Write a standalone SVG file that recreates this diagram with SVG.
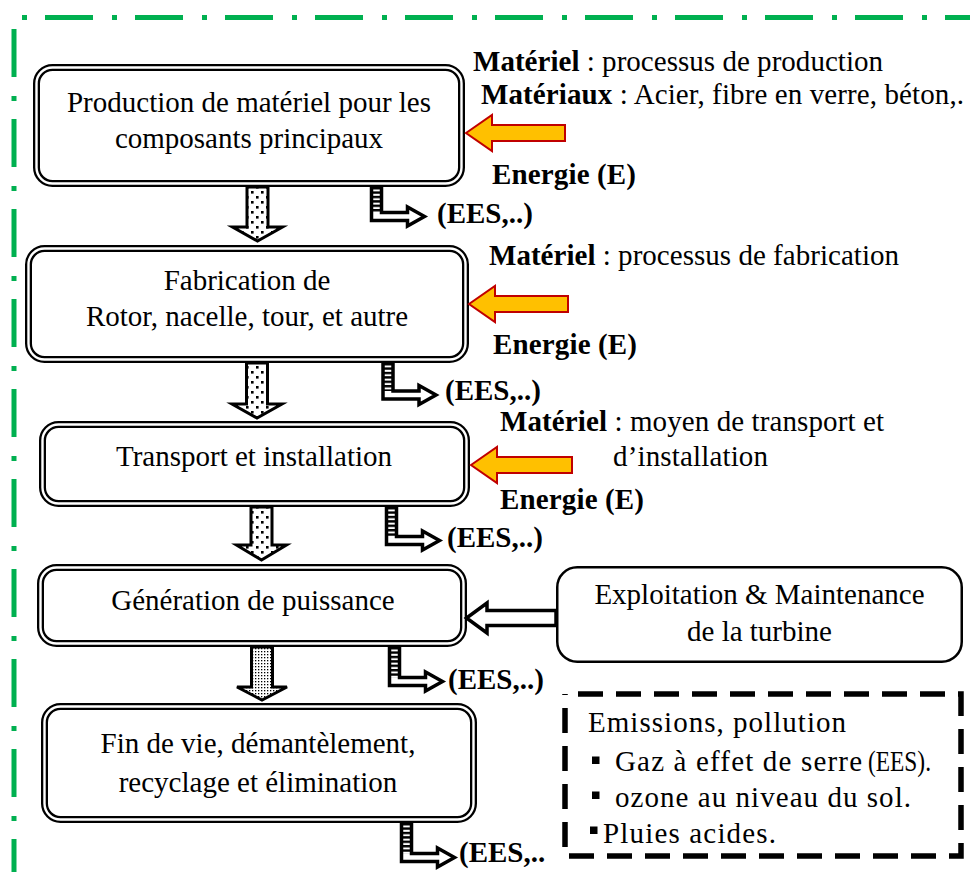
<svg xmlns="http://www.w3.org/2000/svg" width="970" height="872" viewBox="0 0 970 872">
<style>
  text { font-family: "Liberation Serif", "Times New Roman", serif; font-size: 29px; fill: #000; }
  .b { font-weight: bold; }
  .mid { text-anchor: middle; }
  .frame-o { fill: #fff; stroke: #000; stroke-width: 7; }
  .frame-i { fill: none; stroke: #fff; stroke-width: 2.4; }
  .border { fill: none; stroke: #00B050; stroke-width: 5; }
  .flow { stroke: #000; stroke-width: 3; stroke-linejoin: miter; }
  .input { fill: #FFC000; stroke: #C00000; stroke-width: 2; stroke-linejoin: miter; }
  .ees-bg { fill: #fff; stroke: none; }
  .ees-line { fill: none; stroke: #000; stroke-width: 3.5; stroke-linejoin: miter; }
  .hollow { fill: #fff; stroke: #000; stroke-width: 3.5; stroke-linejoin: miter; }
  .bullet { fill: #000; }
</style>
<defs>
  <pattern id="dots" width="10" height="10" patternUnits="userSpaceOnUse">
    <rect width="10" height="10" fill="#fff"/>
    <rect x="1" y="1" width="2.6" height="2.6" fill="#000"/>
    <rect x="6" y="6" width="2.6" height="2.6" fill="#000"/>
  </pattern>
  <pattern id="stipple" width="3" height="3" patternUnits="userSpaceOnUse">
    <rect width="3" height="3" fill="#fff"/>
    <rect width="1.3" height="1.3" fill="#000"/>
  </pattern>
  <pattern id="stripes" width="10" height="4.4" patternUnits="userSpaceOnUse">
    <rect width="10" height="4.4" fill="#fff"/>
    <rect width="10" height="2.4" fill="#000"/>
  </pattern>
</defs>

<!-- dash-dot frame -->
<g id="frame">
  <line class="border" x1="22" y1="17.5" x2="970" y2="17.5" stroke-dasharray="5 18 48 19"/>
  <line class="border" x1="14" y1="29" x2="14" y2="872" stroke-dasharray="48 19 5 18"/>
</g>

<!-- life-cycle stages -->
<g id="node-production">
  <rect class="frame-o" x="36.5" y="67.5" width="425" height="116" rx="16"/>
  <rect class="frame-i" x="36.5" y="67.5" width="425" height="116" rx="16"/>
  <text class="mid" x="249" y="111.5">Production de matériel pour les</text>
  <text class="mid" x="249" y="147.5">composants principaux</text>
</g>
<g id="node-fabrication">
  <rect class="frame-o" x="28.5" y="248.5" width="437" height="111" rx="16"/>
  <rect class="frame-i" x="28.5" y="248.5" width="437" height="111" rx="16"/>
  <text class="mid" x="247" y="290">Fabrication de</text>
  <text class="mid" x="247" y="326">Rotor, nacelle, tour, et autre</text>
</g>
<g id="node-transport">
  <rect class="frame-o" x="42.5" y="424.5" width="424" height="79" rx="16"/>
  <rect class="frame-i" x="42.5" y="424.5" width="424" height="79" rx="16"/>
  <text class="mid" x="254" y="466">Transport et installation</text>
</g>
<g id="node-generation">
  <rect class="frame-o" x="40.5" y="567.5" width="423" height="76" rx="16"/>
  <rect class="frame-i" x="40.5" y="567.5" width="423" height="76" rx="16"/>
  <text class="mid" x="253" y="610">Génération de puissance</text>
</g>
<g id="node-fin-de-vie">
  <rect class="frame-o" x="44.5" y="706.5" width="429" height="113" rx="16"/>
  <rect class="frame-i" x="44.5" y="706.5" width="429" height="113" rx="16"/>
  <text class="mid" x="258" y="753">Fin de vie, démantèlement,</text>
  <text class="mid" x="258" y="792">recyclage et élimination</text>
</g>
<g id="node-exploitation">
  <rect x="557.25" y="567.25" width="404.5" height="94.5" rx="20" fill="#fff" stroke="#000" stroke-width="2.5"/>
  <text class="mid" x="759.5" y="604">Exploitation &amp; Maintenance</text>
  <text class="mid" x="759.5" y="641">de la turbine</text>
</g>
<g id="node-emissions">
  <rect x="565" y="694" width="396" height="162" fill="none" stroke="#000" stroke-width="5.5" stroke-dasharray="25 13" stroke-dashoffset="25"/>
  <text x="588" y="732" textLength="258">Emissions, pollution</text>
  <rect class="bullet" x="592" y="756.5" width="7.5" height="7.5"/>
  <text x="615" y="771" textLength="247">Gaz à effet de serre</text>
  <text x="868" y="771" font-size="21" textLength="63" lengthAdjust="spacingAndGlyphs">(EES).</text>
  <rect class="bullet" x="592" y="791.5" width="7.5" height="7.5"/>
  <text x="615" y="807" textLength="296">ozone au niveau du sol.</text>
  <rect class="bullet" x="590" y="826.5" width="7.5" height="7.5"/>
  <text x="603" y="843" textLength="173">Pluies acides.</text>
</g>

<!-- inputs and outputs of each stage -->
<g id="labels">
  <text x="473" y="71" textLength="410"><tspan class="b">Matériel</tspan> : processus de production</text>
  <text x="481" y="104" textLength="483"><tspan class="b">Matériaux</tspan> : Acier, fibre en verre, béton,.</text>
  <text class="b" x="492" y="184" textLength="144">Energie (E)</text>
  <text class="b" x="437" y="223">(EES,..)</text>

  <text x="489" y="265" textLength="410"><tspan class="b">Matériel</tspan> : processus de fabrication</text>
  <text class="b" x="493" y="354" textLength="144">Energie (E)</text>
  <text class="b" x="445" y="400">(EES,..)</text>

  <text x="500" y="431" textLength="384"><tspan class="b">Matériel</tspan> : moyen de transport et</text>
  <text x="613" y="466" textLength="155">d’installation</text>
  <text class="b" x="500" y="509" textLength="144">Energie (E)</text>
  <text class="b" x="447" y="547">(EES,..)</text>

  <text class="b" x="448" y="689">(EES,..)</text>
  <text class="b" x="459" y="862">(EES,..</text>
</g>

<!-- connectors -->
<g id="connectors">
  <!-- stage-to-stage flow -->
  <path class="flow" fill="url(#dots)" d="M247,187 H268 V227 H282.5 L257.5,241 L232.5,227 H247 Z"/>
  <path class="flow" fill="url(#dots)" d="M246.5,363 H267.5 V404 H282 L257,418 L232,404 H246.5 Z"/>
  <path class="flow" fill="url(#dots)" d="M251,507 H272 V545 H286.5 L261.5,560 L236.5,545 H251 Z"/>
  <path class="flow" fill="url(#stipple)" d="M251.5,647 H272.5 V687 H287 L262,700 L237,687 H251.5 Z"/>

  <!-- material and energy inputs -->
  <path class="input" d="M466,133 L492,115 V125 H565 V141 H492 V151 Z"/>
  <path class="input" d="M469,304 L495,286 V296 H568 V312 H495 V322 Z"/>
  <path class="input" d="M471,465 L497,447 V457 H572 V473 H497 V483 Z"/>

  <!-- operation & maintenance feed -->
  <path class="hollow" d="M556,610.5 H487 V603 L466.5,618 L487,633 V625.5 H556 Z"/>

  <!-- emission outputs -->
  <g transform="translate(371.5,187)">
    <path class="ees-bg" d="M0,0 H10 V25.5 H36 V20 L53,29.5 L36,39 V33.5 H0 Z"/>
    <rect x="0" y="0" width="10" height="25.5" fill="url(#stripes)"/>
    <path class="ees-line" d="M0,0 H10 V25.5 H36 V20 L53,29.5 L36,39 V33.5 H0 Z"/>
  </g>
  <g transform="translate(383,363)">
    <path class="ees-bg" d="M0,0 H10 V28 H36 V22.5 L53,32 L36,41.5 V36 H0 Z"/>
    <rect x="0" y="0" width="10" height="28" fill="url(#stripes)"/>
    <path class="ees-line" d="M0,0 H10 V28 H36 V22.5 L53,32 L36,41.5 V36 H0 Z"/>
  </g>
  <g transform="translate(386.5,507)">
    <path class="ees-bg" d="M0,0 H10 V29.5 H36 V24 L53,33.5 L36,43 V37.5 H0 Z"/>
    <rect x="0" y="0" width="10" height="29.5" fill="url(#stripes)"/>
    <path class="ees-line" d="M0,0 H10 V29.5 H36 V24 L53,33.5 L36,43 V37.5 H0 Z"/>
  </g>
  <g transform="translate(389.5,647)">
    <path class="ees-bg" d="M0,0 H10 V30.5 H36 V25 L53,34.5 L36,44 V38.5 H0 Z"/>
    <rect x="0" y="0" width="10" height="30.5" fill="url(#stripes)"/>
    <path class="ees-line" d="M0,0 H10 V30.5 H36 V25 L53,34.5 L36,44 V38.5 H0 Z"/>
  </g>
  <g transform="translate(401.5,823)">
    <path class="ees-bg" d="M0,0 H10 V30.5 H36 V25 L53,34.5 L36,44 V38.5 H0 Z"/>
    <rect x="0" y="0" width="10" height="30.5" fill="url(#stripes)"/>
    <path class="ees-line" d="M0,0 H10 V30.5 H36 V25 L53,34.5 L36,44 V38.5 H0 Z"/>
  </g>
</g>
</svg>
